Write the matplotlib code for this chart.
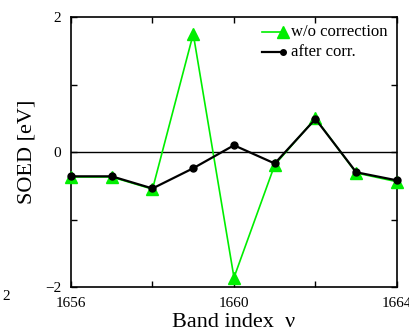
import numpy as np
import matplotlib
matplotlib.use("Agg")
import matplotlib.pyplot as plt
from matplotlib.ticker import MultipleLocator

plt.rcParams['font.family'] = ['Liberation Serif', 'DejaVu Serif']

# SOED per band, before and after the correction
band = [1656, 1657, 1658, 1659, 1660, 1661, 1662, 1663, 1664]
soed_raw = [-0.37, -0.37, -0.55, 1.75, -1.86, -0.19, 0.50, -0.31, -0.44]
soed_corr = [-0.36, -0.36, -0.54, -0.24, 0.10, -0.17, 0.49, -0.30, -0.42]
yticks = [-2, 0, 2]
ytick_labels = ['\u22122', '0', '2']

fig = plt.figure(figsize=(4.09, 3.36), dpi=100)
ax = fig.add_axes([0.1736, 0.1458, 0.797, 0.8035])

ax.axhline(0, color='black', lw=1.0, zorder=1)
ax.plot(band, soed_raw, color='#00ee00', lw=1.2, marker='^', ms=9,
        mec='#00ee00', mfc='#00ee00', clip_on=False, zorder=3)
ax.plot(band, soed_corr, color='black', lw=1.6, marker='o', ms=5,
        clip_on=False, zorder=4)

ax.set_xlim(1656, 1664)
ax.set_ylim(-2, 2)
ax.set_xticks([1656, 1660, 1664])
ax.xaxis.set_minor_locator(MultipleLocator(2))
ax.set_yticks(yticks, ytick_labels)
ax.yaxis.set_minor_locator(MultipleLocator(1))
ax.tick_params(which='both', direction='in', top=True, right=True,
               labelsize=11, width=1.0, length=4)
ax.tick_params(axis='y', pad=7)
ax.tick_params(axis='x', pad=7)
for s in ax.spines.values():
    s.set_linewidth(1.2)

ax.set_xlabel('Band index  \u03bd', fontsize=16, labelpad=2)
ax.set_ylabel('SOED [eV]', fontsize=16, labelpad=6)

# hand-drawn legend, marker at the right end of each sample line
tr = ax.transAxes
ax.plot([0.586, 0.650], [0.944, 0.944], color='#00ee00', lw=1.2, transform=tr)
ax.plot([0.650], [0.944], marker='^', ms=9, color='#00ee00', transform=tr)
ax.text(0.674, 0.944, 'w/o correction', fontsize=12, va='center', transform=tr)
ax.plot([0.586, 0.650], [0.870, 0.870], color='black', lw=1.6, transform=tr)
ax.plot([0.650], [0.870], marker='o', ms=4, color='black', transform=tr)
ax.text(0.674, 0.870, 'after corr.', fontsize=12, va='center', transform=tr)

fig.text(0.005, 0.108, '2', fontsize=11)

fig.savefig('out.png', dpi=100)
